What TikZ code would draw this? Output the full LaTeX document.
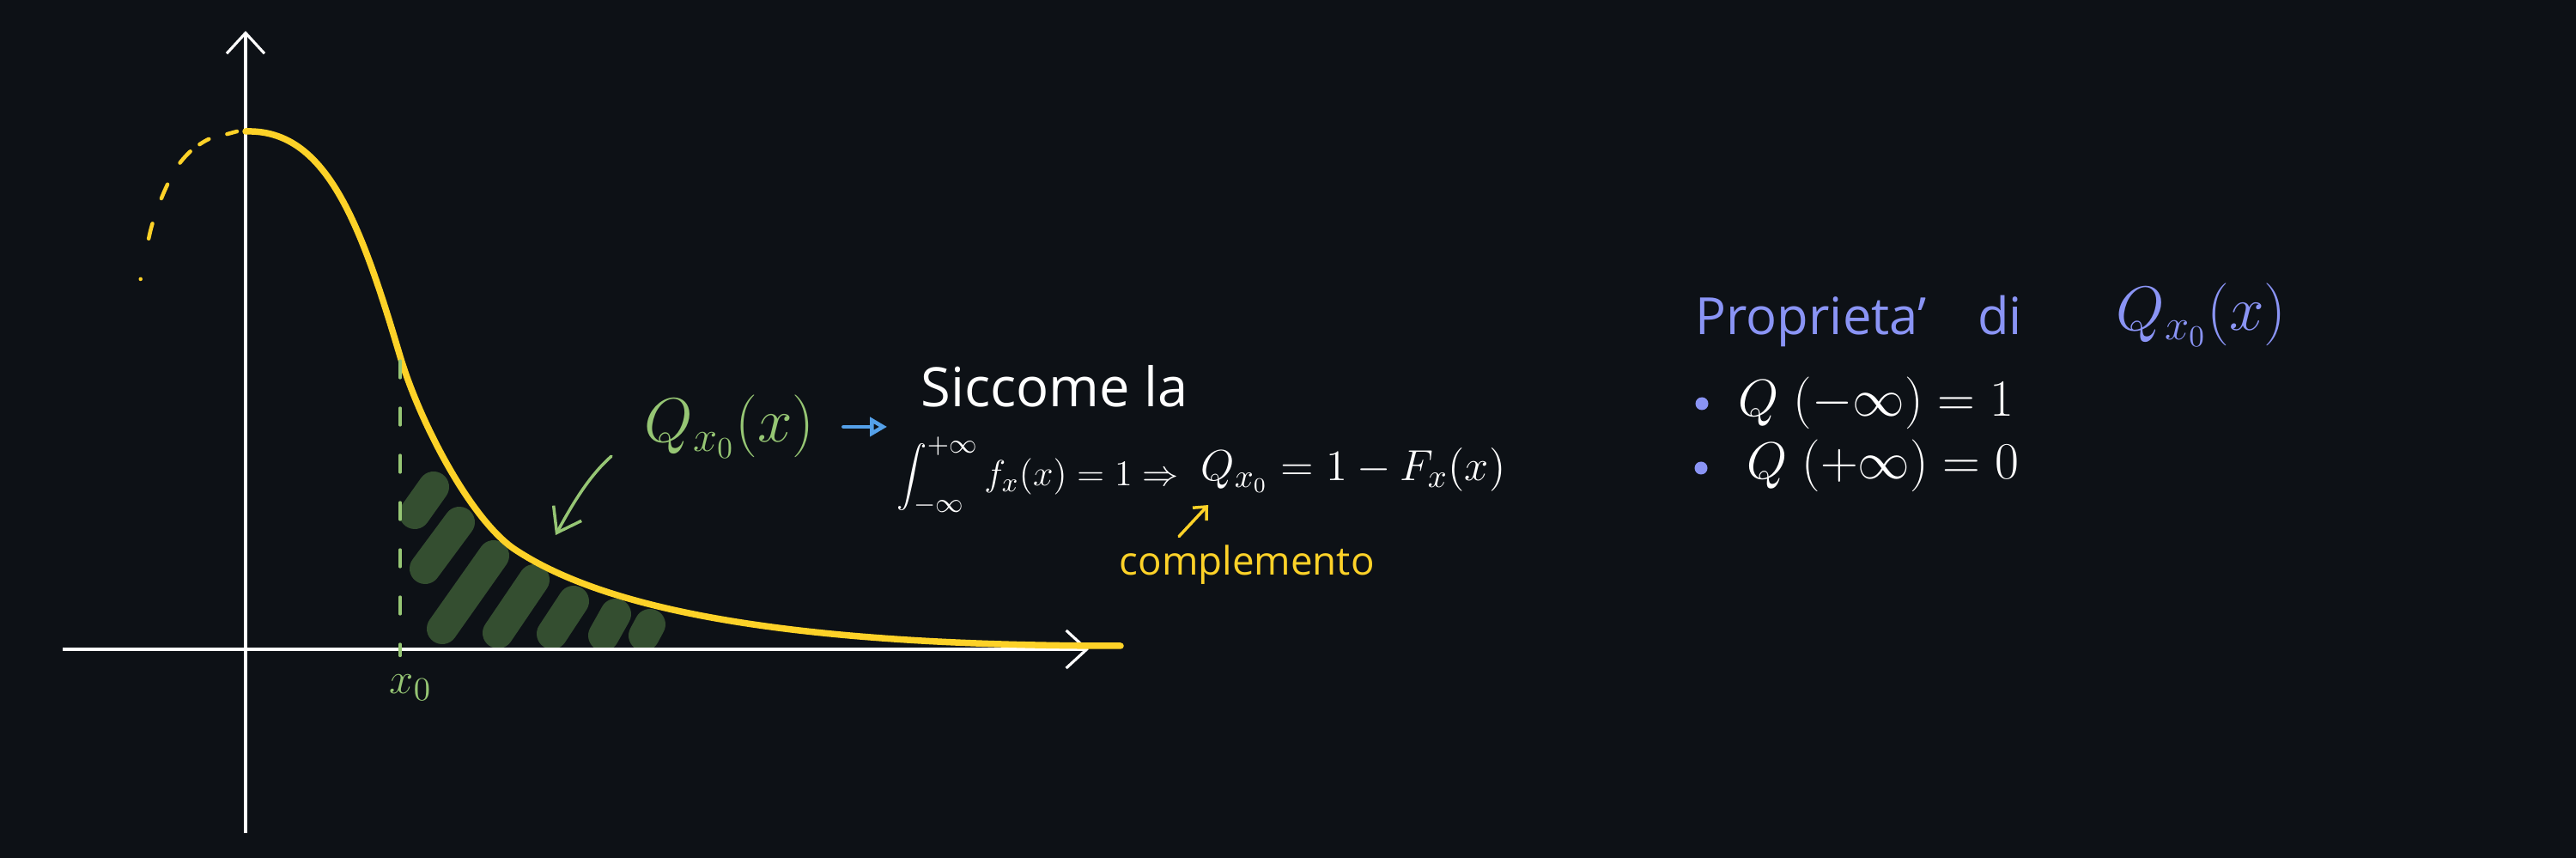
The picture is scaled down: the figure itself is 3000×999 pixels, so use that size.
\documentclass[tikz,border=0pt]{standalone}
\usepackage{fontspec}
\setmainfont{Open Sans}
\usetikzlibrary{arrows.meta,calc}

\definecolor{bgdark}{RGB}{13,17,22}
\definecolor{curveyellow}{RGB}{253,210,40}
\definecolor{labgreen}{RGB}{150,198,116}
\definecolor{hatchgreen}{RGB}{52,78,48}
\definecolor{arrowblue}{RGB}{84,160,232}
\definecolor{propblue}{RGB}{138,148,245}

\begin{document}
\begin{tikzpicture}[x=0.1mm,y=-0.1mm,
  txt/.style={inner sep=0pt,anchor=base west},
  axisline/.style={white,line width=0.32mm,-{Straight Barb[length=2.4mm,width=4.4mm]}},
  density/.style={curveyellow,line width=0.75mm,line cap=round},
  densitydash/.style={curveyellow,line width=0.45mm,line cap=round,
    dash pattern=on 1.2mm off 2.2mm on 1.25mm off 1.35mm on 1.8mm off 2.9mm on 1.8mm off 3.1mm on 1.8mm off 4.8mm on 0.01mm off 30mm},
  hatch/.style={hatchgreen,line width=3.6mm,line cap=round},
  x0dash/.style={labgreen,line width=0.32mm,line cap=round,dash pattern=on 2mm off 3.5mm},
  greenarrow/.style={labgreen,line width=0.35mm,line cap=round,-{Straight Barb[length=2.6mm,width=3.7mm]}},
  bluearrow/.style={arrowblue,line width=0.45mm,line cap=round,-{Triangle[open,length=2mm,width=2.2mm]}},
  yellowarrow/.style={curveyellow,line width=0.35mm,line cap=round,-{Straight Barb[length=1.2mm,width=2.2mm]}},
  bullet/.style={circle,fill=propblue,inner sep=0pt,minimum size=1.5mm}]

\useasboundingbox (0,0) rectangle (3000,999);
\fill[bgdark] (0,0) rectangle (3000,999);

% shaded tail
\draw[hatch] (505,567) -- (483,598);
\draw[hatch] (535,608) -- (495,662);
\draw[hatch] (575,647) -- (515,732);
\draw[hatch] (622,675) -- (580,737);
\draw[hatch] (668,700) -- (643,738);
\draw[hatch] (717,715) -- (703,740);
\draw[hatch] (757,727) -- (750,740);

% axes
\draw[axisline] (73,756) -- (1268,756);
\draw[axisline] (286,970) -- (286,36);

% density
\draw[densitydash] plot[smooth] coordinates {(276,153) (265,156) (243,162) (222,176) (205,196) (190,226) (177,262) (169,298) (162,334)};
\draw[density] (286,153) .. controls (380,150) and (420,260) .. (466,415)
  .. controls (490,495) and (550,607) .. (600,640)
  .. controls (700,706) and (900,752) .. (1305,752);

% x0
\node[txt,labgreen,font=\fontsize{15}{18}\selectfont] (x0lab) at (453,808) {$x_0$};
\coordinate (xtop) at (466,420);
\draw[x0dash,shorten >=2.2mm] (xtop) -- (xtop |- x0lab.north);

% labels
\node[txt,labgreen,font=\fontsize{20}{24}\selectfont] (qlabel) at (750,515) {$Q_{x_0}(x)$};
\node[txt,white,font=\fontsize{18}{22}\selectfont] (siccome) at (1072,474) {Siccome la};
\node[txt,white,font=\fontsize{13}{16}\selectfont] (intg) at (1044,566) {$\displaystyle\int_{-\infty}^{+\infty} f_x(x) = 1 \Rightarrow$};
\node[txt,white,font=\fontsize{15}{18}\selectfont] (qcomp) at (1398,560) {$Q_{x_0} = 1 - F_x(x)$};
\node[txt,curveyellow,font=\fontsize{13}{16}\selectfont] (compl) at (1303,670) {complemento};

\coordinate (shaded) at (647,623);
\draw[greenarrow] ($(qlabel.south west)+(-38,-3)$) .. controls (685,555) and (665,590) .. (shaded);
\draw[bluearrow,shorten <=3.3mm,shorten >=3.9mm] (qlabel.east) -- (qlabel.east -| siccome.west);
\draw[yellowarrow] ($(compl.north west)+(70,-10)$) -- ($(qcomp.south west)+(9,14)$);

% properties
\node[txt,propblue,font=\fontsize{17}{20}\selectfont] (title) at (1974,390) {Proprieta'\quad di};
\node[txt,propblue,font=\fontsize{20}{24}\selectfont] (titleq) at (2464,385) {$Q_{x_0}(x)$};
\node[bullet] (b1) at (1982,470) {};
\node[bullet] (b2) at (1981,545) {};
\node[txt,white,font=\fontsize{16}{19}\selectfont] (prop1) at (2024,485) {$Q\;(-\infty) = 1$};
\node[txt,white,font=\fontsize{16}{19}\selectfont] (prop2) at (2034,558) {$Q\;(+\infty) = 0$};

\end{tikzpicture}
\end{document}
